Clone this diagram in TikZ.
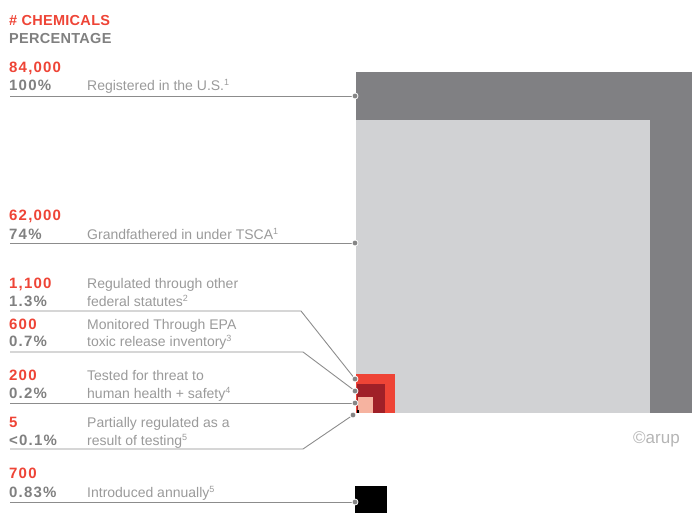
\documentclass[tikz,border=0pt]{standalone}
\usepackage{fontspec}
\setmainfont{Liberation Sans}
\newfontfamily\numfont[LetterSpace=8]{Liberation Sans}
\newfontfamily\headfont[LetterSpace=2]{Liberation Sans}
\definecolor{cred}{HTML}{EE4436}
\definecolor{cpct}{HTML}{808080}
\definecolor{cdesc}{HTML}{9A9A9A}
\definecolor{cline}{HTML}{8C8C8C}
\definecolor{cdot}{HTML}{858585}
\definecolor{cdark}{HTML}{808083}
\definecolor{clight}{HTML}{D1D2D4}
\definecolor{cdred}{HTML}{A02028}
\definecolor{cpink}{HTML}{F6B3A0}
\definecolor{ccopy}{HTML}{B5B5B5}
\newcommand{\fn}[1]{\raisebox{5pt}{\fontsize{9}{9}\selectfont #1}}
\begin{document}
\begin{tikzpicture}[x=1pt,y=-1pt,
  head/.style={anchor=base west, inner sep=0, font=\headfont\fontsize{14.5}{17}\selectfont\bfseries},
  num/.style={anchor=base west, inner sep=0, font=\numfont\fontsize{15}{18}\selectfont\bfseries, text=cred},
  pct/.style={anchor=base west, inner sep=0, font=\numfont\fontsize{15}{18}\selectfont\bfseries, text=cpct},
  desc/.style={anchor=base west, inner sep=0, font=\fontsize{14}{17}\selectfont, text=cdesc},
  conn/.style={draw=cline, line width=0.9pt},
  dot/.style={circle, fill=cdot, draw=white, line width=0.8pt, inner sep=0, minimum size=6pt}]
\useasboundingbox (0,0) rectangle (692,513);

% squares
\fill[cdark] (356,72) rectangle (692,413);
\fill[clight] (356,120) rectangle (650,413);
\fill[cred] (356,374) rectangle (395,413);
\fill[cdred] (357,384) rectangle (385,413);
\fill[cpink] (358,397) rectangle (373,413);
\fill[black] (357,410) rectangle (359,413);
\fill[black] (355,486) rectangle (387,513);

% headings
\node[head, text=cred] (h1) at (9,26) {\# CHEMICALS};
\node[head, text=cpct] (h2) at (9,44) {PERCENTAGE};

% rows
\node[num] (n1) at (9,73) {84,000};
\node[pct] (p1) at (9,91) {100\%};
\node[desc] (t1) at (87,91) {Registered in the U.S.\fn{1}};

\node[num] (n2) at (9,220) {62,000};
\node[pct] (p2) at (9,239) {74\%};
\node[desc] (t2) at (87,239) {Grandfathered in under TSCA\fn{1}};

\node[num] (n3) at (9,288) {1,100};
\node[pct] (p3) at (9,306) {1.3\%};
\node[desc] (t3a) at (87,288) {Regulated through other};
\node[desc] (t3b) at (87,306) {federal statutes\fn{2}};

\node[num] (n4) at (9,329) {600};
\node[pct] (p4) at (9,346) {0.7\%};
\node[desc] (t4a) at (87,329) {Monitored Through EPA};
\node[desc] (t4b) at (87,346) {toxic release inventory\fn{3}};

\node[num] (n5) at (9,380) {200};
\node[pct] (p5) at (9,398) {0.2\%};
\node[desc] (t5a) at (87,380) {Tested for threat to};
\node[desc] (t5b) at (87,398) {human health + safety\fn{4}};

\node[num] (n6) at (9,427) {5};
\node[pct] (p6) at (9,445) {<0.1\%};
\node[desc] (t6a) at (87,427) {Partially regulated as a};
\node[desc] (t6b) at (87,445) {result of testing\fn{5}};

\node[num] (n7) at (9,478) {700};
\node[pct] (p7) at (9,497) {0.83\%};
\node[desc] (t7) at (87,497) {Introduced annually\fn{5}};

\node[anchor=base west, inner sep=0, font=\fontsize{17}{20}\selectfont, text=ccopy] (cp) at (633,443) {©arup};

% connector coordinates
\coordinate (s1) at (10,96);  \coordinate (e1) at (355,96);
\coordinate (s2) at (10,243); \coordinate (e2) at (355,243);
\coordinate (s3) at (10,311); \coordinate (b3) at (301,311); \coordinate (e3) at (355,379);
\coordinate (s4) at (10,352); \coordinate (b4) at (303,352); \coordinate (e4) at (355,391);
\coordinate (s5) at (10,403); \coordinate (e5) at (355,403);
\coordinate (s6) at (10,449); \coordinate (b6) at (303,449); \coordinate (e6) at (353,415);
\coordinate (s7) at (10,502); \coordinate (e7) at (355,502);

\draw[conn] (s1) -- (e1);
\draw[conn] (s2) -- (e2);
\draw[conn] (s3) -- (b3) -- (e3);
\draw[conn] (s4) -- (b4) -- (e4);
\draw[conn] (s5) -- (e5);
\draw[conn] (s6) -- (b6) -- (e6);
\draw[conn] (s7) -- (e7);

\foreach \i in {1,...,7} {\node[dot] (dot\i) at (e\i) {};}
\end{tikzpicture}
\end{document}
